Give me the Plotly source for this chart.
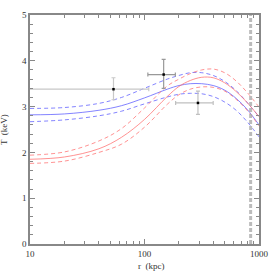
import plotly.graph_objects as go

# radii (kpc) for model curves
r_model = [10, 20, 40, 63, 100, 158, 200, 251, 316, 398, 501, 631, 794, 1000]

blue_mid = [2.82, 2.84, 2.92, 3.02, 3.19, 3.38, 3.46, 3.50, 3.50, 3.46, 3.36, 3.18, 2.93, 2.60]
blue_hi  = [2.96, 2.98, 3.07, 3.20, 3.40, 3.60, 3.68, 3.74, 3.74, 3.68, 3.55, 3.35, 3.08, 2.78]
blue_lo  = [2.67, 2.71, 2.80, 2.90, 3.06, 3.21, 3.27, 3.29, 3.28, 3.22, 3.10, 2.92, 2.66, 2.34]

red_mid = [1.85, 1.90, 2.08, 2.33, 2.72, 3.22, 3.44, 3.57, 3.64, 3.63, 3.52, 3.33, 3.08, 2.78]
red_hi  = [1.94, 2.01, 2.25, 2.52, 2.97, 3.45, 3.60, 3.72, 3.80, 3.82, 3.74, 3.56, 3.30, 2.99]
red_lo  = [1.76, 1.81, 2.00, 2.18, 2.55, 3.05, 3.26, 3.38, 3.43, 3.42, 3.34, 3.16, 2.91, 2.58]

# data points
r_obs = [53.6, 147, 293]
r_err_minus = [51.6, 40, 106]
r_err_plus = [55.4, 39, 105]
T_obs = [3.38, 3.70, 3.08]
T_err_plus = [0.25, 0.33, 0.26]
T_err_minus = [0.23, 0.30, 0.25]

r_vline = 845

fig = go.Figure()

blue = "rgba(90,90,255,0.75)"
red = "rgba(255,110,110,0.75)"

for ys, dash, col in [(blue_hi, "dash", blue), (blue_lo, "dash", blue), (blue_mid, "solid", blue),
                      (red_hi, "dash", red), (red_lo, "dash", red), (red_mid, "solid", red)]:
    fig.add_trace(go.Scatter(x=r_model, y=ys, mode="lines",
                             line=dict(color=col, width=1, dash=dash if dash == "solid" else "4px,3px", shape="spline"),
                             showlegend=False, hoverinfo="skip"))

fig.add_trace(go.Scatter(x=[r_vline, r_vline], y=[0, 5], mode="lines",
                         line=dict(color="rgba(170,170,170,0.8)", width=3, dash="4px,2px"),
                         showlegend=False))

errcols = ["#c8c8c8", "#999999", "#c0c0c0"]
for i in range(len(r_obs)):
    fig.add_trace(go.Scatter(
        x=[r_obs[i]], y=[T_obs[i]], mode="markers",
        marker=dict(symbol="square", size=2.5, color="black"),
        error_x=dict(type="data", symmetric=False, array=[r_err_plus[i]], arrayminus=[r_err_minus[i]],
                     color=errcols[i], thickness=1.2, width=2),
        error_y=dict(type="data", symmetric=False, array=[T_err_plus[i]], arrayminus=[T_err_minus[i]],
                     color=errcols[i], thickness=1.2, width=2),
        showlegend=False))

font = dict(family="Liberation Serif, DejaVu Serif, serif", size=9, color="#333")

fig.update_layout(
    width=274, height=274,
    margin=dict(l=30, r=15, t=15, b=30),
    paper_bgcolor="white", plot_bgcolor="white",
    font=font,
    annotations=[
        dict(text="r  (kpc)", xref="paper", yref="paper", x=0.53, y=-0.065,
             xanchor="center", yanchor="top", showarrow=False, font=font),
        dict(text="T  (keV)", xref="paper", yref="paper", x=-0.085, y=0.5,
             xanchor="right", yanchor="middle", textangle=-90, showarrow=False, font=font),
    ],
)
fig.update_xaxes(type="log", range=[1, 3], showgrid=False, zeroline=False, automargin=False,
                 showline=True, linecolor="#888", linewidth=1.5, mirror="allticks",
                 ticks="inside", ticklen=5, tickcolor="#888",
                 tickvals=[10, 100, 1000], ticktext=["10", "100", "1000"],
                 minor=dict(ticks="inside", ticklen=3, tickcolor="#888",
                            tickvals=[20, 30, 40, 50, 60, 70, 80, 90, 200, 300, 400, 500, 600, 700, 800, 900]))
fig.update_yaxes(range=[0, 5], showgrid=False, zeroline=False, automargin=False,
                 showline=True, linecolor="#888", linewidth=1.5, mirror="allticks",
                 ticks="inside", ticklen=5, tickcolor="#888",
                 tickvals=[0, 1, 2, 3, 4, 5],
                 minor=dict(ticks="inside", ticklen=3, tickcolor="#888", dtick=0.2))

fig.write_html("out.html", config={"displayModeBar": False},
               post_script="document.body.style.margin='0';")
